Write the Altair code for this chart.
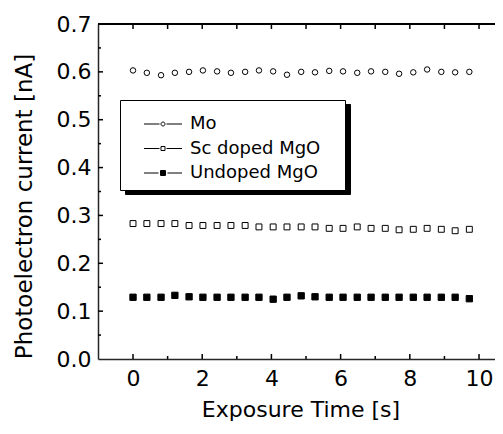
import altair as alt
import pandas as pd

# ---------------- data ----------------
time_s = [0.0, 0.40, 0.81, 1.21, 1.62, 2.02, 2.43, 2.83, 3.24, 3.64, 4.05, 4.45, 4.86,
          5.26, 5.67, 6.07, 6.48, 6.88, 7.29, 7.69, 8.10, 8.50, 8.91, 9.31, 9.72]
mo = [0.603, 0.598, 0.593, 0.598, 0.600, 0.603, 0.601, 0.598, 0.600, 0.603, 0.601, 0.594, 0.600,
      0.599, 0.602, 0.601, 0.598, 0.601, 0.600, 0.596, 0.599, 0.605, 0.600, 0.599, 0.600]
sc_doped = [0.283, 0.283, 0.283, 0.283, 0.279, 0.279, 0.279, 0.279, 0.279, 0.276, 0.276, 0.276, 0.276,
            0.276, 0.273, 0.273, 0.276, 0.273, 0.273, 0.270, 0.271, 0.273, 0.271, 0.268, 0.271]
undoped = [0.129, 0.129, 0.129, 0.133, 0.130, 0.129, 0.129, 0.129, 0.129, 0.129, 0.125, 0.129, 0.132,
           0.130, 0.129, 0.129, 0.129, 0.129, 0.129, 0.129, 0.129, 0.129, 0.129, 0.129, 0.126]
series_names = ["Mo", "Sc doped MgO", "Undoped MgO"]

x_labels = [0, 2, 4, 6, 8, 10]
x_major_ticks = [0, 2, 4, 6, 8, 10]
x_minor_ticks = [1, 3, 5, 7, 9]
x_top_ticks = [0, 1, 2, 3, 4, 5, 6, 7, 8, 9, 10]
y_labels = [0.0, 0.1, 0.2, 0.3, 0.4, 0.5, 0.6, 0.7]
y_major_ticks = [0.1, 0.2, 0.3, 0.4, 0.5, 0.6]
y_minor_ticks = [0.05, 0.15, 0.25, 0.35, 0.45, 0.55, 0.65]

rows = []
for name, vals in zip(series_names, [mo, sc_doped, undoped]):
    for t, v in zip(time_s, vals):
        rows.append({"t": t, "v": v, "series": name})
df = pd.DataFrame(rows)

FONT = "DejaVu Sans"
W, H = 405, 335
X0, X1 = -1.012, 10.693
Y0, Y1 = 0.0, 0.7
xscale = alt.Scale(domain=[X0, X1], nice=False, zero=False)
yscale = alt.Scale(domain=[Y0, Y1], nice=False, zero=False)
LINE = "#262626"
# tick lengths in data units (5 px and 3 px)
TY_MAJ, TY_MIN = 5 * (Y1 - Y0) / H, 3 * (Y1 - Y0) / H
TX_MAJ, TX_MIN = 5 * (X1 - X0) / W, 3 * (X1 - X0) / W

xaxis = alt.Axis(orient="bottom", values=x_labels, ticks=False, tickSize=0,
                 domain=True, domainColor=LINE, domainWidth=1.5, grid=False,
                 labelFont=FONT, labelFontSize=22, labelColor="black", labelPadding=9,
                 title="Exposure Time [s]", titleFont=FONT, titleFontSize=22,
                 titleFontWeight="normal", titleColor="black", titlePadding=10)
yaxis = alt.Axis(orient="left", values=y_labels, format=".1f", ticks=False, tickSize=0,
                 domain=True, domainColor=LINE, domainWidth=1.5, grid=False,
                 labelFont=FONT, labelFontSize=22, labelColor="black", labelPadding=7,
                 title="Photoelectron current [nA]", titleFont=FONT, titleFontSize=23,
                 titleFontWeight="normal", titleColor="black", titlePadding=20,
                 titleY=182)
X = lambda f="t": alt.X(f"{f}:Q", scale=xscale, axis=xaxis)
Y = lambda f="v": alt.Y(f"{f}:Q", scale=yscale, axis=yaxis)

# data points
points = alt.Chart(df).mark_point(filled=True, stroke="black", strokeWidth=1, opacity=1).encode(
    x=X(), y=Y(),
    shape=alt.Shape("series:N", scale=alt.Scale(domain=series_names,
                                                range=["circle", "square", "square"]),
                    legend=None),
    fill=alt.Fill("series:N", scale=alt.Scale(domain=series_names,
                                              range=["white", "white", "black"]),
                  legend=None),
    size=alt.Size("series:N", scale=alt.Scale(domain=series_names, range=[30, 40, 42]),
                  legend=None),
)


# inward ticks built from the tick lists
def vrules(values, y_from, y_to):
    d = pd.DataFrame({"t": values, "v": [y_from] * len(values), "v2": [y_to] * len(values)})
    return alt.Chart(d).mark_rule(stroke="black", strokeWidth=1.5, opacity=1).encode(
        x=X(), y=Y(), y2=alt.Y2("v2"))


def hrules(values, x_from, x_to):
    d = pd.DataFrame({"v": values, "t": [x_from] * len(values), "t2": [x_to] * len(values)})
    return alt.Chart(d).mark_rule(stroke="black", strokeWidth=1.5, opacity=1).encode(
        y=Y(), x=X(), x2=alt.X2("t2"))


tick_layers = [
    vrules(x_major_ticks, Y0, Y0 + TY_MAJ),
    vrules(x_minor_ticks, Y0, Y0 + TY_MIN),
    vrules(x_top_ticks, Y1, Y1 - TY_MAJ),
    hrules(y_major_ticks, X0, X0 + TX_MAJ),
    hrules(y_minor_ticks, X0, X0 + TX_MIN),
]
# top frame line
top_df = pd.DataFrame({"t": [X0, X1], "v": [Y1, Y1]})
top_line = alt.Chart(top_df).mark_line(color="black", strokeWidth=2).encode(x=X(), y=Y())

# legend symbols "—o—", "—□—", "—■—" as custom paths (1 unit = 7 px);
# the trailing move-to only widens the legend box, it draws nothing
k = 0.158
tail = "M24.5,0"
circle_path = ("M-2.714,0H-0.5M0.5,0H2.714"
               f"M0.286,0C0.286,{k} {k},0.286 0,0.286C-{k},0.286 -0.286,{k} -0.286,0"
               f"C-0.286,-{k} -{k},-0.286 0,-0.286C{k},-0.286 0.286,-{k} 0.286,0Z" + tail)
square_path = "M-2.714,0H-0.5M0.5,0H2.714M-0.286,-0.286H0.286V0.286H-0.286Z" + tail
fsquare_path = ("M-2.714,0H-0.64M0.64,0H2.714M-0.357,-0.357H0.357V0.357H-0.357Z"
                "M-0.357,-0.214H0.357M-0.357,-0.071H0.357M-0.357,0.071H0.357M-0.357,0.214H0.357"
                + tail)

legend_common = dict(orient="none", title=" ", titleFontSize=2, titlePadding=5,
                     labelFont=FONT, labelFontSize=18,
                     symbolSize=196, symbolStrokeColor="black", symbolStrokeWidth=1,
                     symbolOpacity=1, padding=8, rowPadding=6.5, symbolOffset=26,
                     labelOffset=18)


def legend_layer(lx, ly, fill, z):
    return alt.Chart(df).mark_point(filled=False, stroke="black", opacity=0, size=196).encode(
        x=X(), y=Y(),
        shape=alt.Shape("series:N",
                        scale=alt.Scale(domain=series_names,
                                        range=[circle_path, square_path, fsquare_path]),
                        legend=alt.Legend(legendX=lx, legendY=ly, fillColor=fill,
                                          strokeColor="black", labelColor="black", zindex=z,
                                          **legend_common)),
    )


legend_white = legend_layer(22, 76, "white", 2)
legend_shadow = legend_layer(27, 80, "black", 1)

chart = alt.layer(points, *tick_layers, top_line, legend_white, legend_shadow).resolve_scale(
    shape="independent", fill="independent", size="independent"
).properties(
    width=W, height=H, background="white",
    autosize=alt.AutoSizeParams(type="none"),
    padding={"left": 90, "top": 16, "right": -8, "bottom": 70},
).configure_view(stroke=None)

chart.save("out.html", embed_options={"renderer": "svg", "actions": False})
